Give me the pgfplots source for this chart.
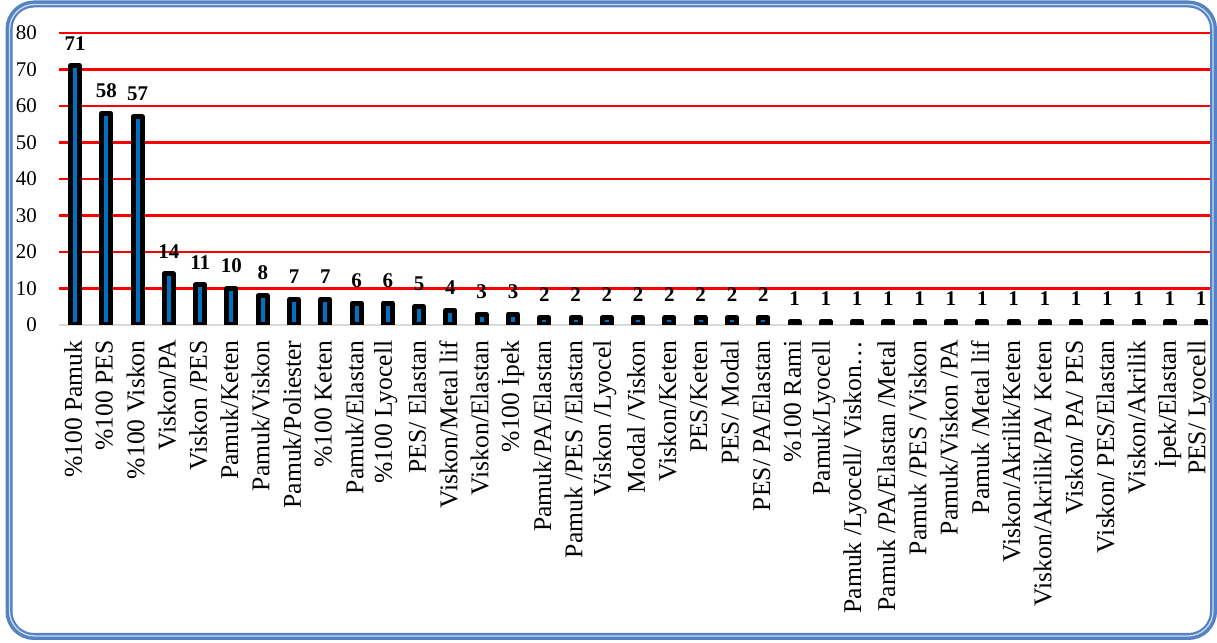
\documentclass[border=0pt]{standalone}
\usepackage{fontspec}
\setmainfont{Liberation Serif}
\usepackage{pgfplots}
\pgfplotsset{compat=1.18}
\definecolor{barblue}{RGB}{0,112,192}
\definecolor{framebl}{RGB}{84,130,196}
\definecolor{framelt}{RGB}{205,220,240}
\definecolor{gridred}{RGB}{255,0,0}
\begin{document}
\begin{tikzpicture}[x=1bp,y=1bp]
\useasboundingbox (0,0) rectangle (1217,643);
\begin{axis}[
 at={(59.4bp,318bp)}, anchor=south west,
 scale only axis, width=1154.6bp, height=292bp,
 xmin=-0.5, xmax=36.41, ymin=0, ymax=80,
 ybar, bar width=9bp,
 ytick={0,10,...,80},
 xtick={0,...,36},
 xticklabels={\%100 Pamuk,\%100 PES,\%100 Viskon,Viskon/PA,Viskon /PES,Pamuk/Keten,Pamuk/Viskon,Pamuk/Poliester,\%100 Keten,Pamuk/Elastan,\%100 Lyocell,PES/ Elastan,Viskon/Metal lif,Viskon/Elastan,\%100 İpek,Pamuk/PA/Elastan,Pamuk /PES /Elastan,Viskon /Lyocel,Modal /Viskon,Viskon/Keten,PES/Keten,PES/ Modal,PES/ PA/Elastan,\%100 Rami,Pamuk/Lyocell,Pamuk /Lyocell/ Viskon…,Pamuk /PA/Elastan /Metal,Pamuk /PES /Viskon,Pamuk/Viskon /PA,Pamuk /Metal lif,Viskon/Akrilik/Keten,Viskon/Akrilik/PA/ Keten,Viskon/ PA/ PES,Viskon/ PES/Elastan,Viskon/Akrilik,İpek/Elastan,PES/ Lyocell},
 axis x line*=bottom, axis y line*=left,
 y axis line style={draw=none},
 x axis line style={draw=black!15, line width=2.4bp, -},
 major tick length=0pt,
 ymajorgrids,
 major grid style={draw=gridred, line width=2.2bp},
 /pgf/number format/assume math mode=true,
 yticklabel style={font=\fontsize{21}{21}\selectfont, xshift=-19bp},
 xticklabel style={font=\fontsize{25.7}{26}\selectfont, rotate=90, anchor=east, xshift=-12bp, yshift=2bp},
]
\addplot[fill=barblue, draw=black, line width=5bp, line join=round,
  nodes near coords,
  nodes near coords style={font=\fontsize{21}{21}\selectfont\bfseries, text=black, anchor=south, yshift=10bp}]
 coordinates {(0,71) (1,58) (2,57) (3,14) (4,11) (5,10) (6,8) (7,7) (8,7) (9,6) (10,6) (11,5) (12,4) (13,3) (14,3) (15,2) (16,2) (17,2) (18,2) (19,2) (20,2) (21,2) (22,2) (23,1) (24,1) (25,1) (26,1) (27,1) (28,1) (29,1) (30,1) (31,1) (32,1) (33,1) (34,1) (35,1) (36,1)};
\end{axis}
\draw[framebl, line width=7bp, rounded corners=25bp] (9,6.5) rectangle (1213.5,639);
\draw[framelt, line width=1.3bp, rounded corners=25bp] (9.5,7) rectangle (1213,638.5);
\end{tikzpicture}
\end{document}
